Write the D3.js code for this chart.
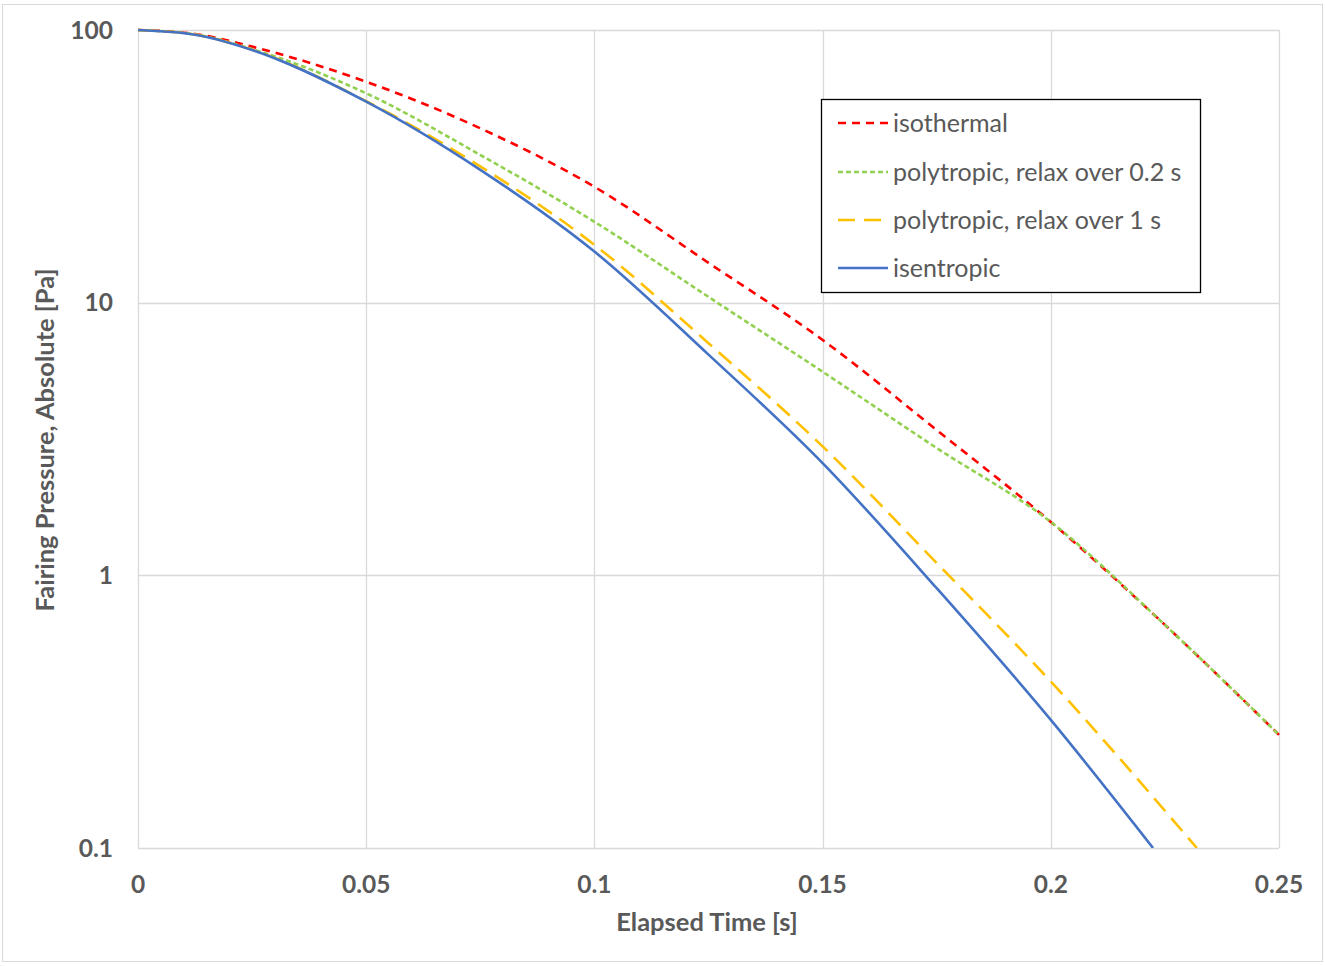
<!DOCTYPE html>
<html><head><meta charset="utf-8">
<script src="https://cdn.jsdelivr.net/npm/d3@7"></script>
<style>body{margin:0;background:#fff;}svg{display:block;}</style>
</head><body>
<svg id="chart" width="1325" height="966"></svg>
<script>
// Data: time [s] and pressure [Pa]
const isothermal = [[0,100],[0.0125,96.7],[0.025,86.9],[0.05,64.6],[0.075,43.6],[0.1,26.6],[0.125,14.0],[0.15,7.30],[0.175,3.41],[0.2,1.57],[0.225,0.658],[0.25,0.260]];
const poly02 = [[0,100],[0.0125,96.3],[0.025,85.1],[0.05,58.6],[0.075,34.8],[0.1,19.8],[0.125,10.5],[0.15,5.58],[0.175,2.93],[0.2,1.57],[0.225,0.658],[0.25,0.260]];
const poly1 = [[0,100],[0.0125,96.2],[0.025,84.7],[0.05,54.8],[0.075,31.6],[0.1,16.3],[0.125,7.1],[0.15,2.97],[0.175,1.11],[0.2,0.408],[0.232,0.1]];
const isentropic = [[0,100],[0.0125,96.1],[0.025,84.5],[0.05,54.6],[0.075,30.7],[0.1,15.4],[0.125,6.45],[0.15,2.58],[0.175,0.897],[0.2,0.295],[0.2224,0.1]];
const xTicks = [0, 0.05, 0.1, 0.15, 0.2, 0.25];
const xTickLabels = ["0","0.05","0.1","0.15","0.2","0.25"];
const yTicks = [0.1, 1, 10, 100];
const yTickLabels = ["0.1","1","10","100"];
const seriesNames = ["isothermal","polytropic, relax over 0.2 s","polytropic, relax over 1 s","isentropic"];
const seriesColors = ["#FF0000","#92D050","#FFC000","#4472C4"];
const seriesDash = ["8,6","5,3","17,9",null];

const svg = d3.select("#chart");
const m = {left:138, right:1279, top:30, bottom:848};
const x = d3.scaleLinear().domain([0,0.25]).range([m.left,m.right]);
const y = d3.scaleLog().domain([0.1,100]).range([m.bottom,m.top]);

// outer border
svg.append("rect").attr("x",2.5).attr("y",4.5).attr("width",1320).attr("height",957)
  .attr("fill","#fff").attr("stroke","#d9d9d9").attr("stroke-width",1);

// gridlines
const grid = svg.append("g");
grid.selectAll(".vg").data(xTicks).join("line")
  .attr("x1",d=>Math.round(x(d))+0.5).attr("x2",d=>Math.round(x(d))+0.5)
  .attr("y1",m.top).attr("y2",m.bottom).attr("stroke","#d9d9d9").attr("stroke-width",1.3);
grid.selectAll(".hg").data(yTicks).join("line")
  .attr("y1",d=>Math.round(y(d))+0.5).attr("y2",d=>Math.round(y(d))+0.5)
  .attr("x1",m.left).attr("x2",m.right).attr("stroke","#d9d9d9").attr("stroke-width",1.3);

// tick labels
const lblFont = "Lato, 'Liberation Sans', Arial, sans-serif";
svg.append("g").selectAll("text").data(xTicks).join("text")
  .attr("x",d=>x(d)).attr("y",893).attr("text-anchor","middle")
  .attr("font-family",lblFont).attr("font-weight","bold").attr("font-size",24.5).attr("fill","#595959")
  .text((d,i)=>xTickLabels[i]);
svg.append("g").selectAll("text").data(yTicks).join("text")
  .attr("x",113).attr("y",d=>y(d)+8.5).attr("text-anchor","end")
  .attr("font-family",lblFont).attr("font-weight","bold").attr("font-size",24.5).attr("fill","#595959")
  .text((d,i)=>yTickLabels[i]);

// axis titles
svg.append("text").attr("x",707).attr("y",931).attr("text-anchor","middle")
  .attr("font-family",lblFont).attr("font-weight","bold").attr("font-size",25.5).attr("fill","#595959")
  .text("Elapsed Time [s]");
svg.append("text").attr("transform","translate(54,440) rotate(-90)").attr("text-anchor","middle")
  .attr("font-family",lblFont).attr("font-weight","bold").attr("font-size",25.5).attr("fill","#595959")
  .text("Fairing Pressure, Absolute [Pa]");

// lines
const allSeries = [isothermal, poly02, poly1, isentropic];
const line = d3.line().x(d=>x(d[0])).y(d=>y(d[1])).curve(d3.curveMonotoneX);
svg.append("defs").append("clipPath").attr("id","clip").append("rect")
  .attr("x",m.left).attr("y",m.top-5).attr("width",m.right-m.left+3).attr("height",m.bottom-m.top+5);
const lg = svg.append("g").attr("clip-path","url(#clip)");
allSeries.forEach((s,i)=>{
  lg.append("path").datum(s).attr("d",line).attr("fill","none")
    .attr("stroke",seriesColors[i]).attr("stroke-width",2.6)
    .attr("stroke-dasharray",seriesDash[i]);
});

// legend
const leg = svg.append("g");
leg.append("rect").attr("x",821.5).attr("y",99.5).attr("width",379).attr("height",193)
  .attr("fill","#fff").attr("stroke","#000").attr("stroke-width",1.3);
const rowY = [123,172,220,268];
seriesNames.forEach((n,i)=>{
  leg.append("line").attr("x1",838).attr("x2",888).attr("y1",rowY[i]).attr("y2",rowY[i])
    .attr("stroke",seriesColors[i]).attr("stroke-width",2.6).attr("stroke-dasharray",seriesDash[i]);
  leg.append("text").attr("x",893).attr("y",rowY[i]+8.5)
    .attr("font-family",lblFont).attr("font-size",25).attr("fill","#595959").text(n);
});
</script>
</body></html>
